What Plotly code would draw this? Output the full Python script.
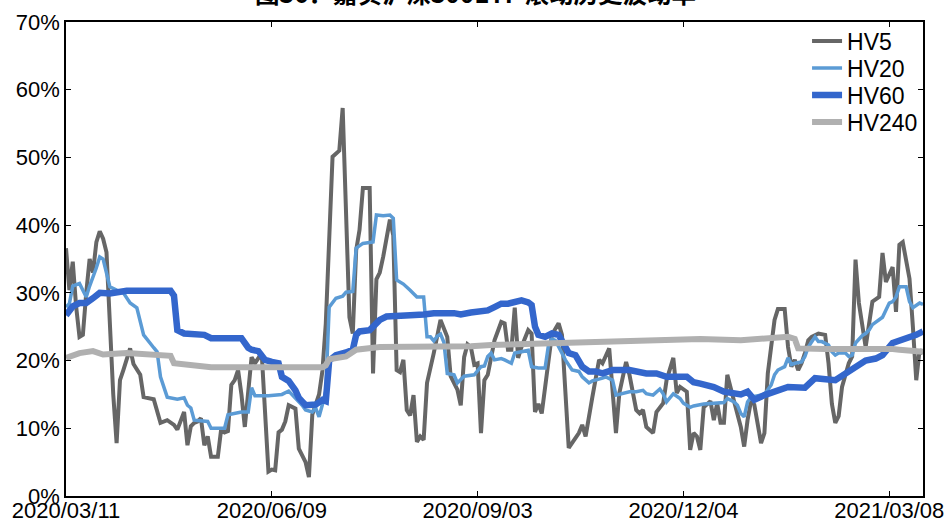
import plotly.graph_objects as go

# ---- data (trading-day index since 2020/03/11, volatility in %) ----
tick_days = [0, 61, 122, 183, 244]
tick_dates = ["2020/03/11", "2020/06/09", "2020/09/03", "2020/12/04", "2021/03/08"]

hv5_day = [0, 1, 2, 3, 4, 5, 6, 7, 8, 9, 10, 11, 12, 13, 14, 15, 16, 17, 19, 20, 21, 22, 23, 25, 26, 28, 30, 32, 33, 35,
           36, 37, 38, 39, 40, 41, 42, 43, 45, 46, 47, 48, 49, 50, 51, 52, 53, 55, 56, 58, 60, 61, 62, 63, 64, 65, 66, 68, 69, 70,
           71, 72, 73, 75, 76, 77, 79, 81, 82, 84, 85, 86, 87, 88, 90, 91, 92, 93, 94, 96, 97, 98, 99, 100, 101, 102, 103, 104, 105, 106,
           107, 109, 110, 111, 113, 114, 116, 117, 118, 119, 120, 121, 122, 123, 124, 125, 127, 129, 130, 131, 132, 133, 134, 135, 137, 138, 139, 140, 141, 143,
           144, 146, 147, 149, 150, 152, 153, 154, 156, 158, 159, 160, 161, 163, 164, 166, 167, 169, 170, 171, 172, 174, 175, 177, 178, 180, 181, 182, 184, 185,
           186, 187, 188, 189, 191, 192, 193, 194, 195, 196, 197, 198, 200, 201, 202, 203, 204, 206, 207, 208, 210, 211, 213, 214, 215, 216, 217, 218, 219, 220,
           221, 223, 225, 226, 227, 228, 229, 230, 232, 233, 234, 235, 237, 238, 239, 241, 242, 243, 245, 246, 247, 248, 250, 251, 252, 253, 254]
hv5 = [36.6, 30.4, 34.6, 28.0, 23.5, 23.8, 30.0, 35.0, 33.0, 37.5, 39.1, 38.0, 36.0, 24.0, 15.0, 7.8, 17.1, 18.6, 21.8, 19.5, 18.6, 17.9, 14.6, 14.4, 14.3, 10.8, 11.2, 10.5, 9.8, 12.4,
       7.5, 10.3, 10.8, 11.0, 11.5, 7.5, 8.8, 5.8, 5.8, 9.9, 9.4, 9.6, 16.4, 17.1, 18.6, 15.0, 10.2, 20.5, 19.6, 21.1, 3.6, 3.9, 3.8, 9.4, 9.8, 11.0, 13.4, 12.9, 7.0, 6.0,
       5.0, 2.8, 12.0, 15.0, 18.5, 25.5, 50.1, 51.0, 57.3, 26.4, 24.0, 36.3, 39.3, 45.5, 45.5, 18.1, 32.0, 33.0, 35.3, 40.8, 38.5, 18.6, 18.3, 20.1, 12.7, 11.9, 14.9, 8.0, 8.8, 8.3,
       16.7, 21.1, 23.3, 26.0, 23.5, 17.7, 15.7, 13.4, 20.5, 22.4, 22.0, 19.4, 19.6, 9.3, 17.1, 17.9, 23.0, 25.7, 25.5, 21.6, 21.6, 27.8, 20.4, 22.0, 24.5, 24.0, 12.4, 13.6, 12.2, 20.1,
       23.8, 25.5, 23.8, 7.1, 7.8, 9.3, 10.5, 8.8, 14.6, 20.1, 19.6, 20.7, 21.8, 9.3, 15.2, 19.8, 17.9, 12.7, 12.2, 12.7, 10.2, 9.3, 12.4, 13.7, 17.1, 20.4, 15.2, 16.1, 15.4, 6.8,
       9.3, 8.8, 6.8, 13.1, 14.0, 11.2, 13.7, 10.8, 10.8, 17.9, 15.7, 14.0, 10.2, 7.3, 11.2, 14.0, 13.5, 7.8, 9.3, 18.1, 26.0, 27.6, 27.6, 22.0, 19.1, 20.1, 18.6, 19.6, 21.1, 23.0,
       23.5, 24.0, 23.8, 19.6, 13.6, 10.8, 11.8, 16.1, 19.6, 20.6, 34.9, 28.5, 22.0, 25.5, 28.7, 29.4, 35.9, 31.6, 33.8, 27.2, 37.1, 37.5, 32.1, 25.0, 17.1, 21.6, 21.0]

hv20_day = [0, 1, 2, 3, 4, 6, 7, 9, 10, 11, 13, 15, 17, 19, 21, 23, 24, 26, 27, 28, 30, 33, 35, 36, 37, 38, 42, 43, 47, 48,
            52, 54, 55, 56, 60, 64, 66, 67, 68, 70, 71, 73, 74, 75, 76, 77, 78, 80, 82, 83, 85, 86, 88, 91, 92, 94, 96, 97, 98, 100,
            102, 104, 106, 107, 108, 109, 110, 111, 112, 113, 115, 116, 118, 121, 123, 124, 125, 126, 127, 129, 130, 132, 133, 135, 137, 138, 140, 142, 143, 144,
            145, 147, 148, 150, 152, 153, 155, 156, 158, 159, 160, 162, 163, 165, 167, 169, 171, 172, 174, 176, 177, 178, 179, 180, 182, 183, 185, 186, 189, 193,
            195, 196, 198, 199, 200, 201, 202, 203, 205, 207, 209, 210, 211, 213, 214, 215, 216, 218, 219, 220, 222, 223, 224, 226, 227, 228, 229, 231, 232, 233,
            234, 236, 237, 238, 239, 241, 242, 244, 245, 246, 247, 249, 250, 251, 253, 254]
hv20 = [27.9, 28.4, 31.0, 31.2, 31.4, 29.4, 31.0, 33.7, 35.3, 35.0, 30.9, 30.4, 30.0, 28.5, 27.8, 23.8, 23.1, 21.9, 21.3, 17.6, 14.6, 14.3, 14.5, 13.4, 13.0, 11.2, 11.0, 10.0, 10.0, 12.0,
        12.4, 12.4, 16.0, 14.8, 14.8, 15.0, 15.5, 15.0, 14.5, 13.4, 12.7, 12.4, 13.0, 11.7, 13.5, 15.5, 27.9, 29.2, 29.5, 30.1, 30.2, 36.6, 37.3, 37.5, 41.5, 41.4, 41.5, 41.0, 31.9, 31.3,
        30.4, 29.4, 29.4, 23.5, 23.5, 22.9, 23.6, 23.9, 22.7, 18.1, 17.9, 16.7, 17.7, 17.9, 19.1, 19.2, 20.6, 21.1, 20.1, 20.3, 20.1, 19.6, 21.1, 21.3, 21.5, 19.1, 18.9, 18.9, 22.3, 23.2,
        23.0, 21.1, 20.1, 18.6, 18.4, 17.6, 16.7, 17.0, 17.2, 17.4, 17.6, 17.1, 14.9, 15.1, 15.4, 15.4, 15.6, 15.1, 14.9, 15.8, 15.1, 13.9, 14.6, 15.1, 14.4, 13.7, 13.1, 13.3, 13.6, 13.8,
        13.8, 14.4, 13.9, 13.4, 12.2, 11.7, 13.9, 14.6, 14.8, 15.0, 16.4, 17.9, 18.6, 19.1, 20.4, 19.4, 19.6, 19.8, 20.6, 22.0, 23.5, 22.8, 22.8, 22.3, 21.3, 20.8, 21.1, 21.1, 20.6, 20.8,
        22.6, 23.7, 24.0, 24.5, 25.3, 26.0, 26.4, 28.5, 28.7, 29.4, 30.9, 30.9, 28.7, 27.8, 28.5, 28.3]

hv60_day = [0, 2, 4, 6, 8, 10, 13, 18, 23, 28, 31, 32, 33, 35, 38, 41, 43, 47, 49, 52, 54, 55, 57, 59, 61, 63, 64, 66, 68, 69,
            71, 74, 76, 77, 78, 80, 83, 85, 86, 87, 90, 92, 93, 95, 98, 102, 106, 109, 115, 117, 120, 123, 125, 127, 129, 131, 133, 135, 137, 138,
            139, 140, 142, 144, 146, 148, 149, 151, 153, 155, 157, 159, 162, 167, 169, 172, 175, 178, 184, 186, 188, 192, 195, 200, 202, 204, 207, 211, 214, 219,
            222, 228, 231, 234, 237, 240, 242, 245, 249, 252, 254]
hv60 = [26.7, 28.0, 28.5, 28.5, 29.2, 30.0, 29.9, 30.3, 30.3, 30.4, 30.3, 29.6, 24.5, 24.0, 23.9, 23.8, 23.3, 23.2, 23.3, 23.3, 21.9, 21.6, 21.4, 20.1, 19.8, 19.6, 17.6, 17.0, 15.6, 14.5,
        13.4, 13.5, 14.2, 14.0, 20.0, 20.8, 21.2, 21.6, 23.8, 24.3, 24.5, 25.5, 26.0, 26.5, 26.5, 26.7, 26.8, 27.0, 27.0, 26.8, 27.1, 27.2, 27.4, 27.9, 28.4, 28.4, 28.6, 28.9, 28.6, 28.2,
        25.0, 23.8, 23.5, 24.0, 23.8, 22.0, 21.1, 20.8, 19.1, 18.4, 18.4, 18.1, 18.6, 18.6, 18.4, 18.1, 18.1, 17.6, 17.6, 16.8, 16.6, 16.1, 15.4, 15.0, 15.4, 14.2, 14.9, 15.6, 16.1, 16.0,
        17.4, 17.1, 18.1, 19.1, 20.0, 20.3, 20.8, 22.6, 23.2, 23.8, 24.3]

hv240_day = [0, 4, 8, 11, 18, 24, 31, 32, 38, 43, 48, 53, 58, 63, 68, 73, 76, 77, 78, 83, 85, 86, 93, 100, 110, 120, 126, 133, 143, 153,
             162, 175, 188, 200, 205, 210, 214, 216, 217, 225, 235, 241, 245, 247, 250, 254]
hv240 = [20.4, 21.1, 21.4, 20.9, 21.1, 20.9, 20.7, 19.6, 19.3, 19.0, 19.0, 19.1, 19.0, 19.0, 19.0, 18.8, 19.0, 19.3, 20.2, 20.6, 21.2, 21.6, 22.0, 22.0, 22.0, 22.1, 22.3, 22.4, 22.6, 22.8,
         23.0, 23.1, 23.2, 23.0, 23.1, 23.3, 23.5, 23.2, 21.8, 21.7, 21.8, 21.8, 21.7, 21.6, 21.5, 21.3]

series = [
    ("HV5", hv5_day, hv5, "#666666", 4),
    ("HV20", hv20_day, hv20, "#5b9bd5", 3.5),
    ("HV60", hv60_day, hv60, "#3366cc", 6.5),
    ("HV240", hv240_day, hv240, "#b0b0b0", 6),
]
legend_ids = ["legend", "legend2", "legend3", "legend4"]
legend_y = [0.9599, 0.9030, 0.8460, 0.7890]

fig = go.Figure()
for (name, xd, yd, col, w), lid in zip(series, legend_ids):
    fig.add_trace(go.Scatter(x=xd, y=yd, mode="lines", name=name, legend=lid,
                             line=dict(color=col, width=w)))

font_family = "Liberation Sans, Arial, sans-serif"
layout_legends = {}
for lid, ly in zip(legend_ids, legend_y):
    layout_legends[lid] = dict(x=0.8647, y=ly, xanchor="left", yanchor="middle",
                               bgcolor="rgba(0,0,0,0)", font=dict(size=23),
                               itemwidth=30, borderwidth=0)

fig.update_layout(
    width=948, height=522,
    margin=dict(l=66, r=25, t=22, b=26),
    paper_bgcolor="white", plot_bgcolor="white",
    font=dict(family=font_family, size=22, color="black"),
    showlegend=True,
    **layout_legends,
)
fig.update_xaxes(range=[0, 254], tickvals=tick_days, ticktext=tick_dates, automargin=False,
                 showline=True, linecolor="black", linewidth=1.5, mirror="allticks",
                 ticks="inside", ticklen=5, tickcolor="black", showgrid=False, zeroline=False,
                 ticklabelstandoff=-6)
fig.update_yaxes(range=[0, 70], dtick=10, ticksuffix="%", automargin=False,
                 showline=True, linecolor="black", linewidth=1.5, mirror="allticks",
                 ticks="inside", ticklen=5, tickcolor="black", showgrid=False, zeroline=False)

fig.add_annotation(text="<b>图36：嘉实沪深300ETF 滚动历史波动率</b>", xref="paper", yref="paper",
                   x=0.478, y=1, yshift=30, yanchor="middle", showarrow=False,
                   font=dict(family="Noto Sans CJK SC, sans-serif", size=24.5, color="black"))

fig.write_html("out.html", config={"displayModeBar": False},
               post_script="document.body.style.margin='0';document.body.style.overflow='hidden';")
